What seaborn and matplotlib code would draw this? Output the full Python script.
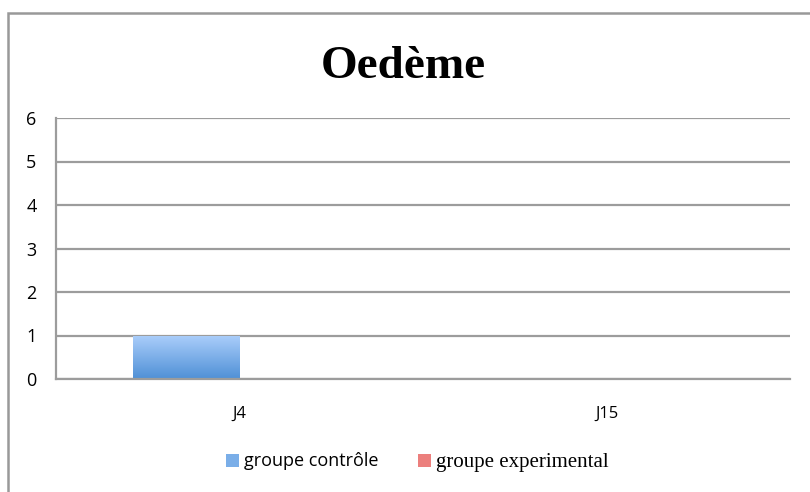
import numpy as np
import pandas as pd
import matplotlib
matplotlib.use("Agg")
import matplotlib.pyplot as plt
import seaborn as sns
from matplotlib.patches import Rectangle, Patch
from matplotlib.colors import LinearSegmentedColormap

# ---- data ----
categories = ["J4", "J15"]
series_names = ["groupe contrôle", "groupe experimental"]
controle = [1, 0]
experimental = [0, 0]
y_ticks = [0, 1, 2, 3, 4, 5, 6]
title = "Oedème"

df = pd.DataFrame({
    "jour": categories * 2,
    "groupe": [series_names[0]] * len(categories) + [series_names[1]] * len(categories),
    "valeur": controle + experimental,
})

sns.set_theme(style="white")
plt.rcParams["font.family"] = ["Open Sans", "DejaVu Sans"]
plt.rcParams["text.color"] = "#000000"

W, H = 810, 492
fig = plt.figure(figsize=(W / 100, H / 100), dpi=100)
ax = fig.add_axes([56 / W, 1 - 379 / H, (790 - 56) / W, (379 - 118) / H])

blue_top, blue_bot = "#abcefb", "#4f90d6"
red_top, red_bot = "#f6a5a2", "#e25c5c"

sns.barplot(data=df, x="jour", y="valeur", hue="groupe", order=categories,
            hue_order=series_names, palette=[blue_bot, red_bot], width=0.578,
            ax=ax, legend=False, saturation=1)

ax.set_ylim(0, 6)
ax.set_xlim(-0.5, 1.5)
ax.set_yticks(y_ticks)
ax.set_yticklabels([str(t) for t in y_ticks], fontsize=13, color="#000000")
ax.tick_params(axis="y", length=0, pad=14)
ax.tick_params(axis="x", length=0, pad=19, labelsize=12, labelcolor="#000000")
ax.set_xlabel("")
ax.set_ylabel("")
ax.yaxis.grid(True, color="#9c9c9c", linewidth=1.6)
ax.set_axisbelow(True)
for s in ["top", "right"]:
    ax.spines[s].set_visible(False)
for s in ["left", "bottom"]:
    ax.spines[s].set_color("#9c9c9c")
    ax.spines[s].set_linewidth(1.6)

# gradient fill on bars
def grad_cmap(top, bot):
    return LinearSegmentedColormap.from_list("g", [bot, top])

cmaps = {0: grad_cmap(blue_top, blue_bot), 1: grad_cmap(red_top, red_bot)}
for i, cont in enumerate(ax.containers):
    for p in cont.patches:
        h = p.get_height()
        if h <= 0:
            p.set_visible(False)
            continue
        x0 = p.get_x()
        w = p.get_width()
        grad = np.linspace(0, 1, 256).reshape(-1, 1)
        im = ax.imshow(grad, extent=[x0, x0 + w, 0, h], origin="lower",
                       cmap=cmaps[i], aspect="auto", zorder=p.get_zorder() + 0.1)
        im.set_clip_path(p)
        p.set_edgecolor("none")
ax.set_xlim(-0.5, 1.5)
ax.set_ylim(0, 6)

# title
fig.text(403 / W, 1 - 67 / H, title, ha="center", va="center", color="#000000",
         fontsize=34, fontweight="bold", family=["Liberation Serif", "DejaVu Serif"])

# outer chart frame
fig.patches.append(Rectangle((8 / W, -0.1), 1.2, 1 - 13 / H + 0.1,
                             transform=fig.transFigure, fill=False,
                             edgecolor="#999999", linewidth=1.8))

# legend
handles = [Patch(facecolor=blue_bot, edgecolor="none"),
           Patch(facecolor=red_bot, edgecolor="none")]
leg = fig.legend(handles, series_names, loc="center", bbox_to_anchor=(417 / W, 1 - 462 / H),
                 ncol=2, frameon=False, fontsize=13, handlelength=0.75, handleheight=0.75,
                 handletextpad=0.25, columnspacing=2.2, labelcolor="#000000")
texts = leg.get_texts()
texts[1].set_family(["Liberation Serif", "DejaVu Serif"])
texts[1].set_fontsize(15)
leg.legend_handles[0].set_facecolor("#7aaee8")
leg.legend_handles[1].set_facecolor("#ec7f7d")

fig.savefig("out.png", dpi=100)
